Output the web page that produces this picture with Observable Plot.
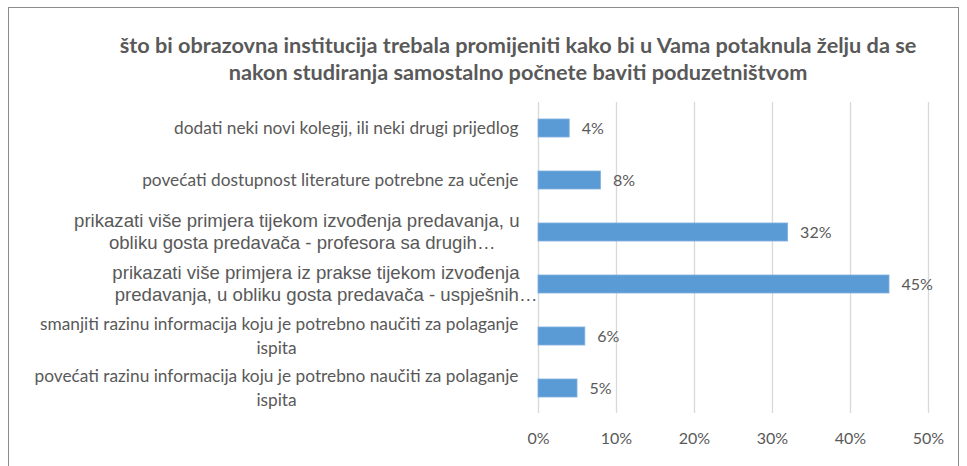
<!DOCTYPE html>
<html>
<head>
<meta charset="utf-8">
<script src="https://cdn.jsdelivr.net/npm/d3@7"></script>
<script src="https://cdn.jsdelivr.net/npm/@observablehq/plot@0.6"></script>
<style>
  html, body { margin: 0; padding: 0; background: #fff; }
  #wrap { position: relative; width: 967px; height: 466px; overflow: hidden; background: #fff; }
  #frame { position: absolute; left: 8px; top: 7px; width: 951px; height: 520px; border: 1px solid #8c8c8c; box-sizing: border-box; }
  #title { position: absolute; left: 68px; width: 900px; top: 32px; text-align: center;
           font-family: Lato, sans-serif; font-weight: bold; font-size: 21.7px; line-height: 27px; color: #595959; }
  #chart { position: absolute; left: 0; top: 0; }
</style>
</head>
<body>
<div id="wrap">
  <div id="frame"></div>
  <div id="title">što bi obrazovna institucija trebala promijeniti kako bi u Vama potaknula želju da se<br>nakon studiranja samostalno počnete baviti poduzetništvom</div>
  <div id="chart"></div>
</div>
<script>
const categories = [
  "dodati neki novi kolegij, ili neki drugi prijedlog",
  "povećati dostupnost literature potrebne za učenje",
  "prikazati više primjera tijekom izvođenja predavanja, u obliku gosta predavača - profesora sa drugih…",
  "prikazati više primjera iz prakse tijekom izvođenja predavanja, u obliku gosta predavača - uspješnih…",
  "smanjiti razinu informacija koju je potrebno naučiti za polaganje ispita",
  "povećati razinu informacija koju je potrebno naučiti za polaganje ispita"
];
const values = [0.04, 0.08, 0.32, 0.45, 0.06, 0.05];
const labelLines = [
  ["dodati neki novi kolegij, ili neki drugi prijedlog"],
  ["povećati dostupnost literature potrebne za učenje"],
  ["prikazati više primjera tijekom izvođenja predavanja, u", "obliku gosta predavača - profesora sa drugih…"],
  ["prikazati više primjera iz prakse tijekom izvođenja", "predavanja, u obliku gosta predavača - uspješnih…"],
  ["smanjiti razinu informacija koju je potrebno naučiti za polaganje", "ispita"],
  ["povećati razinu informacija koju je potrebno naučiti za polaganje", "ispita"]
];
const xTicks = [0, 0.1, 0.2, 0.3, 0.4, 0.5];

const data = categories.map((c, i) => ({category: c, value: values[i]}));
const rows = [];
labelLines.forEach((lines, i) => lines.forEach((t, j) => rows.push({category: categories[i], text: t, idx: j, n: lines.length, k: i})));

const arial = new Set([2, 3]);
const textColor = "#595959";
const calibri = "Lato, 'Open Sans', sans-serif";
const arialFont = "'Liberation Sans', Arial, sans-serif";

function lineMark(filter, opts) {
  return Plot.text(rows.filter(filter), {
    y: "category", text: "text", frameAnchor: "left",
    fill: textColor, ...opts
  });
}

const chart = Plot.plot({
  width: 967,
  height: 466,
  marginTop: 102,
  marginBottom: 53,
  marginLeft: 538,
  marginRight: 39,
  style: {color: textColor, background: "transparent", overflow: "visible"},
  x: {domain: [0, 0.5], axis: null, label: null},
  y: {domain: categories, paddingInner: 0.654, paddingOuter: 0.317, axis: null, label: null},
  marks: [
    Plot.gridX(xTicks, {stroke: "#d9d9d9", strokeOpacity: 1, strokeWidth: 1.3}),
    Plot.axisX(xTicks, {tickFormat: d3.format(".0%"), tickSize: 0, tickPadding: 19, label: null,
      fontSize: 16, fontFamily: calibri, fill: textColor}),
    Plot.barX(data, {x: "value", y: "category", fill: "#5b9bd5", stroke: "#7fb0de", strokeWidth: 0.8}),
    Plot.text(data, {x: "value", y: "category", text: d => d3.format(".0%")(d.value),
      dx: 12, textAnchor: "start", fontSize: 16, fontFamily: calibri, fill: textColor}),
    // single-line labels (Calibri-like)
    lineMark(d => !arial.has(d.k) && d.n === 1, {textAnchor: "end", dx: -20, fontSize: 17.3, fontFamily: calibri}),
    // first lines of two-line labels (Calibri-like)
    lineMark(d => !arial.has(d.k) && d.n === 2 && d.idx === 0, {textAnchor: "end", dx: -20, dy: -12, fontSize: 17.3, fontFamily: calibri}),
    // second lines (centered)
    lineMark(d => !arial.has(d.k) && d.n === 2 && d.idx === 1, {textAnchor: "middle", dx: -262, dy: 12, fontSize: 17.3, fontFamily: calibri}),
    // Arial labels
    lineMark(d => arial.has(d.k) && d.idx === 0, {textAnchor: "end", dx: -19, dy: -11, fontSize: 18.6, fontFamily: arialFont}),
    lineMark(d => d.k === 2 && d.idx === 1, {textAnchor: "end", dx: -43, dy: 11, fontSize: 18.6, fontFamily: arialFont}),
    lineMark(d => d.k === 3 && d.idx === 1, {textAnchor: "end", dx: -1, dy: 11, fontSize: 18.6, fontFamily: arialFont})
  ]
});
document.getElementById("chart").appendChild(chart);
</script>
</body>
</html>
